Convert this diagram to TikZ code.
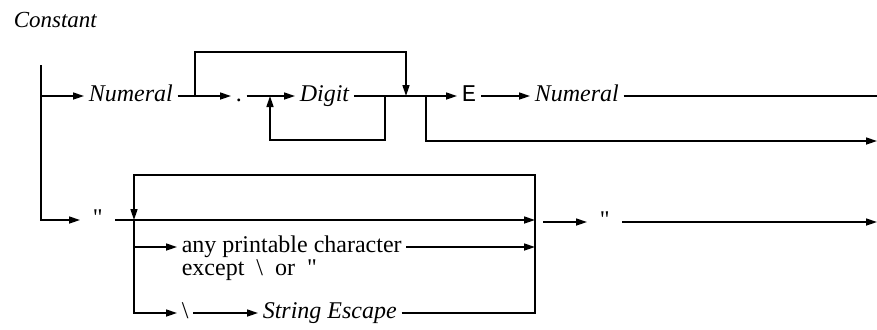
\documentclass[tikz,border=0pt]{standalone}
\usepackage{fontspec}
\setmainfont{Liberation Serif}[Ligatures=TeXOff]
\setmonofont{Liberation Mono}
\usetikzlibrary{arrows.meta,positioning}

\begin{document}
\begin{tikzpicture}[x=0.5pt,y=-0.5pt,line width=0.8pt,
  >={Triangle[length=5.5pt,width=3.5pt]},
  font=\fontsize{12}{13}\selectfont,
  lbl/.style={inner xsep=2pt,inner ysep=0pt,text height=8pt,text depth=2.5pt,anchor=west},
  nt/.style={lbl,font=\fontsize{12}{13}\selectfont\itshape},
  qt/.style={lbl,inner xsep=6pt}]
  \useasboundingbox (0,0) rectangle (877,329);
  \node[nt,font=\fontsize{11.5}{13}\selectfont\itshape] (title) at (9,22) {Constant};
  % numeric constant
  \node[nt] (num) at (84,96) {Numeral};
  \node[lbl] (dot) at (231,96) {.};
  \node[nt] (digit) at (295,96) {Digit};
  \node[lbl] (exp) at (457,96) {\ttfamily E};
  \node[nt] (expnum) at (530,96) {Numeral};
  % string constant
  \node[qt] (qopen) at (80,220) {"};
  \node[lbl] (print) at (177,247) {any printable character};
  \node[lbl,anchor=north west] (except) at (print.south west) {except \ \textbackslash\ \ or \ "};
  \node[lbl] (bsl) at (177,313) {\textbackslash};
  \node[nt] (esc) at (258,313) {String Escape};
  \node[qt] (qclose) at (587,222) {"};
  \coordinate (start) at (41,65);
  \coordinate (skip) at (195,96);
  \coordinate (skipend) at (406,96);
  \coordinate (rep) at (385,96);
  \coordinate (repend) at (270,96);
  \coordinate (noexp) at (426,96);
  \coordinate (outA) at (877,96);
  \coordinate (outB) at (877,141);
  \coordinate (colL) at (134,220);
  \coordinate (colR) at (535,220);
  \coordinate (back) at (535,175);
  \coordinate (leave) at (543,222);
  \coordinate (outC) at (877,222);

  \draw[->] (start) |- (qopen.west);
  \draw[->] (start |- num) -- (num.west);
  \draw[->] (num.east) -- (dot.west);
  \draw[->] (skip) -- ++(0,-44) -| (skipend);
  \draw[->] (dot.east) -- (digit.west);
  \draw[->] (rep) -- ++(0,44) -| (repend);
  \draw[->] (digit.east) -- (exp.west);
  \draw[->] (noexp) |- (outB);
  \draw[->] (exp.east) -- (expnum.west);
  \draw (expnum.east) -- (outA);

  \draw[->] (qopen.east) -- (colR);
  \draw[->] (esc.east) -| (back) -| (colL);
  \draw[->] (colL) |- (print.west);
  \draw[->] (colL) |- (bsl.west);
  \draw[->] (print.east) -- (colR |- print);
  \draw[->] (bsl.east) -- (esc.west);
  \draw[->] (leave) -- (qclose.west);
  \draw[->] (qclose.east) -- (outC);
\end{tikzpicture}
\end{document}
